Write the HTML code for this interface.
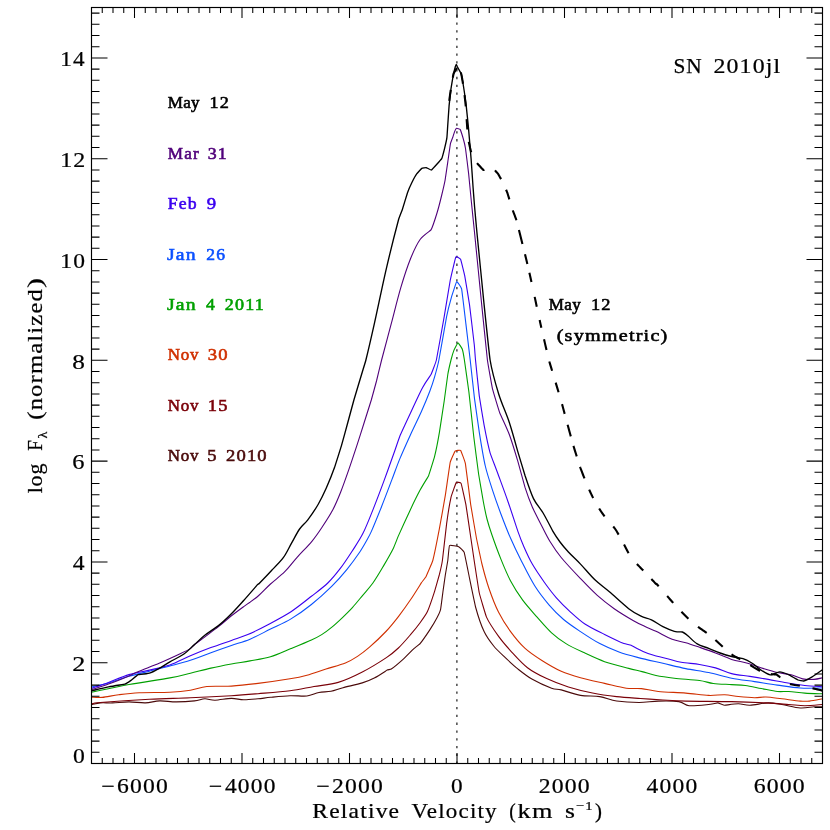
<!DOCTYPE html>
<html><head><meta charset="utf-8"><title>SN 2010jl</title>
<style>html,body{margin:0;padding:0;background:#fff}svg{display:block;will-change:transform}text{font-family:"Liberation Serif",serif}</style></head><body>
<svg width="830" height="830" viewBox="0 0 830 830">
<rect width="830" height="830" fill="#fff"/>
<defs><clipPath id="c"><rect x="91.5" y="7.5" width="731.0" height="756.0"/></clipPath></defs>
<line x1="456.9" y1="763.5" x2="456.9" y2="7.5" stroke="#1a1a1a" stroke-width="1.2" stroke-dasharray="2.3 5.48" stroke-dashoffset="0.30"/>
<g clip-path="url(#c)" fill="none" stroke-linejoin="round" stroke-linecap="butt">
<path d="M91.50 704.60C92.91 704.33 96.92 703.17 100.30 702.90C103.68 702.63 108.01 703.06 112.60 702.90C117.19 702.74 123.75 701.90 129.00 701.90C134.25 701.90 140.49 703.06 145.40 702.90C150.31 702.74 154.79 701.06 159.70 700.90C164.61 700.74 170.53 701.90 176.10 701.90C181.67 701.90 189.91 701.40 194.50 700.90C199.09 700.40 201.52 698.91 204.80 698.80C208.08 698.69 210.74 700.26 215.00 700.20C219.26 700.14 226.81 698.46 231.40 698.40C235.99 698.34 239.44 699.74 243.70 699.80C247.96 699.86 253.68 699.20 258.00 698.80C262.32 698.40 265.58 697.80 270.70 697.30C275.82 696.80 284.21 695.91 290.00 695.70C295.79 695.49 302.28 696.51 306.90 696.00C311.52 695.49 315.04 693.25 318.90 692.50C322.76 691.75 327.14 692.07 331.00 691.30C334.86 690.53 337.99 689.04 343.00 687.70C348.01 686.36 357.29 684.45 362.30 682.90C367.31 681.35 370.32 680.05 374.30 678.00C378.28 675.95 386.52 670.46 387.20 670.10C387.88 669.74 390.64 669.45 391.30 669.00C391.96 668.55 399.98 662.06 403.60 658.80C407.22 655.54 413.24 649.21 413.90 648.60C414.56 647.99 419.46 644.35 420.10 643.60C420.74 642.85 429.12 630.93 429.80 629.90C430.48 628.87 436.57 618.62 437.00 617.80C437.43 616.98 440.36 610.46 440.60 609.40C440.84 608.34 442.81 592.70 443.00 591.30C443.19 589.90 445.21 575.73 445.40 574.50C445.59 573.27 447.64 561.66 447.80 560.50C447.96 559.34 449.06 546.05 449.50 545.50C449.94 544.95 458.11 546.42 458.70 546.70C459.29 546.98 463.76 551.12 464.20 552.40C464.64 553.68 469.14 576.40 469.60 578.60C470.06 580.80 475.12 605.38 475.70 607.50C476.28 609.62 481.22 625.44 484.10 631.60C486.98 637.76 490.23 641.76 493.70 646.00C497.17 650.24 501.94 654.44 505.80 658.10C509.66 661.76 513.56 665.51 517.80 668.90C522.04 672.29 526.89 676.21 532.30 679.30C537.71 682.39 546.98 686.50 551.60 688.20C556.22 689.90 556.58 688.75 561.20 689.90C565.82 691.05 574.32 694.33 580.50 695.40C586.68 696.47 594.02 695.70 599.80 696.60C605.58 697.50 610.33 700.06 616.60 701.00C622.87 701.94 632.33 702.48 639.00 702.50C645.67 702.52 651.92 701.24 658.30 701.10C664.68 700.96 673.96 700.86 678.90 701.60C683.84 702.34 684.43 705.24 689.20 705.70C693.97 706.16 704.12 704.95 708.70 704.50C713.28 704.05 717.16 702.87 717.80 702.90C718.44 702.93 723.88 705.16 724.70 705.20C725.52 705.24 734.37 703.80 738.40 703.80C742.43 703.80 745.13 705.34 749.90 705.20C754.67 705.06 763.08 703.01 768.20 702.90C773.32 702.79 776.76 703.68 781.90 704.50C787.04 705.32 795.16 707.63 800.30 708.00C805.44 708.37 810.45 706.99 814.00 706.80C817.55 706.61 821.14 706.80 822.50 706.80" stroke="#4A0A0A" stroke-width="1.10"/>
<path d="M91.50 704.00C92.91 703.76 91.04 703.27 100.30 702.50C109.56 701.73 134.98 699.95 149.40 699.20C163.82 698.45 177.28 698.36 190.40 697.80C203.52 697.24 220.58 696.36 231.40 695.70C242.22 695.04 248.62 694.48 258.00 693.70C267.38 692.92 281.04 691.95 290.00 690.80C298.96 689.65 306.29 687.84 314.00 686.50C321.71 685.16 330.47 684.72 338.20 682.40C345.93 680.08 354.59 675.97 362.30 672.00C370.01 668.03 380.62 661.44 386.40 657.60C392.18 653.76 394.54 651.66 398.40 648.00C402.26 644.34 407.03 638.75 410.50 634.70C413.97 630.65 419.43 623.62 420.10 622.70C420.77 621.78 426.72 613.06 427.30 611.80C427.88 610.54 434.12 592.79 434.60 591.30C435.08 589.81 439.09 575.73 439.40 574.50C439.71 573.27 442.11 562.52 442.40 560.50C442.69 558.48 446.26 526.43 446.60 523.90C446.94 521.37 450.61 498.96 451.00 497.30C451.39 495.64 455.90 482.96 456.30 482.40C456.70 481.84 460.72 482.51 461.10 483.40C461.48 484.29 465.52 502.46 465.90 504.60C466.28 506.74 470.36 534.70 470.70 537.00C471.04 539.30 474.06 559.76 474.40 562.00C474.74 564.24 478.82 590.80 479.30 593.00C479.78 595.20 485.73 615.36 486.50 617.10C487.27 618.84 494.74 631.01 498.60 636.40C502.46 641.79 505.98 645.79 510.60 650.80C515.22 655.81 521.72 663.25 527.50 667.70C533.28 672.15 540.16 675.51 546.70 678.60C553.24 681.69 561.07 684.70 568.40 687.00C575.73 689.30 584.79 691.46 592.50 693.00C600.21 694.54 608.94 695.72 616.60 696.60C624.26 697.48 632.99 697.96 640.40 698.50C647.81 699.04 655.64 699.58 662.90 700.00C670.16 700.42 674.81 700.84 685.80 701.10C696.79 701.36 718.78 701.31 731.60 701.60C744.42 701.89 756.75 702.44 765.90 702.90C775.05 703.36 782.58 704.05 788.80 704.50C795.02 704.95 799.41 705.70 804.80 705.70C810.19 705.70 819.67 704.69 822.50 704.50" stroke="#7A0008" stroke-width="1.10"/>
<path d="M91.50 697.20C93.23 697.23 97.95 697.80 102.30 697.40C106.65 697.00 112.80 695.45 118.70 694.70C124.60 693.95 131.01 693.10 139.20 692.70C147.39 692.30 161.71 692.60 169.90 692.20C178.09 691.80 184.50 691.11 190.40 690.20C196.30 689.29 200.24 687.16 206.80 686.50C213.36 685.84 223.21 686.60 231.40 686.10C239.59 685.60 248.62 684.57 258.00 683.40C267.38 682.23 282.18 680.11 290.00 678.80C297.82 677.49 301.14 676.77 306.90 675.20C312.66 673.63 319.84 670.95 326.00 669.00C332.16 667.05 340.36 665.02 345.40 663.00C350.44 660.98 353.64 658.93 357.50 656.40C361.36 653.87 364.88 651.26 369.50 647.20C374.12 643.14 381.78 635.90 386.40 631.00C391.02 626.10 394.54 621.59 398.40 616.60C402.26 611.61 406.84 605.19 410.50 599.80C414.16 594.41 420.68 583.84 421.30 582.90C421.92 581.96 425.64 577.30 426.10 576.40C426.56 575.50 432.27 562.41 432.80 560.50C433.33 558.59 438.90 531.32 439.40 528.70C439.90 526.08 444.97 497.55 445.40 494.90C445.83 492.25 449.81 464.15 450.20 462.40C450.59 460.65 454.68 451.58 455.10 451.10C455.52 450.62 460.19 449.90 460.60 450.40C461.01 450.90 465.00 461.43 465.40 463.60C465.80 465.77 470.25 501.58 470.70 504.60C471.15 507.62 476.16 536.66 476.60 539.00C477.04 541.34 481.21 561.03 481.70 563.00C482.19 564.97 488.22 586.23 488.90 588.20C489.58 590.17 495.13 605.36 498.60 612.30C502.07 619.24 506.36 625.82 510.60 631.60C514.84 637.38 520.09 643.78 525.10 648.40C530.11 653.02 536.12 656.84 541.90 660.50C547.68 664.16 555.02 668.53 561.20 671.30C567.38 674.07 573.56 675.86 580.50 677.80C587.44 679.74 597.27 681.74 604.60 683.40C611.93 685.06 620.40 687.37 626.30 688.20C632.20 689.03 636.38 688.07 641.50 688.60C646.62 689.13 651.21 690.78 658.30 691.50C665.39 692.22 677.74 692.48 685.80 693.10C693.86 693.72 702.48 695.14 708.70 695.40C714.92 695.66 719.95 694.52 724.70 694.70C729.45 694.88 733.63 696.02 738.40 696.50C743.17 696.98 750.10 697.62 754.50 697.70C758.90 697.78 761.52 696.82 765.90 697.00C770.28 697.18 776.40 698.14 781.90 698.80C787.40 699.46 795.90 700.73 800.30 701.10C804.70 701.47 805.85 701.47 809.40 701.10C812.95 700.73 820.40 699.17 822.50 698.80" stroke="#D03000" stroke-width="1.10"/>
<path d="M91.50 692.30C97.50 691.05 116.46 686.80 129.00 684.50C141.54 682.20 160.08 679.71 169.90 677.90C179.72 676.09 183.84 674.77 190.40 673.20C196.96 671.63 204.34 669.57 210.90 668.10C217.46 666.63 225.14 665.15 231.40 664.00C237.66 662.85 243.74 662.05 250.00 660.90C256.26 659.75 263.94 658.77 270.50 656.80C277.06 654.83 284.46 651.29 291.00 648.60C297.54 645.91 306.49 642.24 311.40 640.00C316.31 637.76 318.42 636.66 321.70 634.60C324.98 632.54 328.62 629.79 331.90 627.10C335.18 624.41 338.92 620.92 342.20 617.80C345.48 614.68 349.12 611.20 352.40 607.60C355.68 604.00 359.42 599.24 362.70 595.30C365.98 591.36 369.64 587.59 372.90 583.00C376.16 578.41 379.82 572.17 383.10 566.60C386.38 561.03 392.79 549.43 393.40 548.20C394.01 546.97 397.72 537.45 398.40 535.90C399.08 534.35 407.03 516.73 410.50 509.40C413.97 502.07 417.20 495.49 420.10 490.10C423.00 484.71 428.02 477.05 428.60 475.70C429.18 474.35 434.17 458.14 434.60 456.40C435.03 454.66 439.02 434.52 439.40 432.30C439.78 430.08 443.86 403.31 444.20 401.00C444.54 398.69 447.53 376.14 447.80 374.50C448.07 372.86 450.76 360.96 451.00 360.00C451.24 359.04 453.62 351.09 453.90 350.40C454.18 349.71 457.66 342.75 458.00 342.70C458.34 342.65 462.04 348.51 462.30 349.20C462.56 349.89 464.14 358.29 464.40 360.00C464.66 361.71 468.52 388.92 468.90 392.00C469.28 395.08 473.41 433.72 473.80 437.00C474.19 440.28 478.22 471.40 478.60 474.00C478.98 476.60 483.06 500.20 483.40 502.00C483.74 503.80 486.66 517.70 487.00 519.00C487.34 520.30 491.24 532.88 491.80 534.50C492.36 536.12 497.99 551.96 501.00 559.40C504.01 566.84 507.13 574.47 510.60 581.00C514.07 587.53 518.46 594.42 522.70 600.20C526.94 605.98 532.48 611.88 537.10 617.10C541.72 622.32 546.98 628.56 551.60 632.80C556.22 637.04 560.61 640.32 566.00 643.60C571.39 646.88 579.12 650.40 585.30 653.30C591.48 656.20 597.66 659.28 604.60 661.70C611.54 664.12 622.72 666.82 628.70 668.40C634.68 669.98 637.63 670.46 642.00 671.60C646.37 672.74 650.83 674.44 656.00 675.50C661.17 676.56 667.34 677.40 674.30 678.20C681.26 679.00 693.26 679.65 699.50 680.50C705.74 681.35 708.16 682.84 713.30 683.50C718.44 684.16 726.48 684.28 731.60 684.60C736.72 684.92 740.55 684.88 745.30 685.50C750.05 686.12 756.16 687.54 761.30 688.50C766.44 689.46 773.00 691.02 777.40 691.50C781.80 691.98 784.42 691.24 788.80 691.50C793.18 691.76 799.41 692.73 804.80 693.10C810.19 693.47 819.67 693.69 822.50 693.80" stroke="#00A000" stroke-width="1.10"/>
<path d="M91.50 687.00C94.22 686.36 102.50 684.71 108.50 683.00C114.50 681.29 122.46 678.19 129.00 676.30C135.54 674.41 142.86 672.85 149.40 671.20C155.94 669.55 163.34 667.74 169.90 666.00C176.46 664.26 183.84 662.43 190.40 660.30C196.96 658.17 204.34 655.07 210.90 652.70C217.46 650.33 225.14 647.66 231.40 645.50C237.66 643.34 243.74 641.82 250.00 639.20C256.26 636.58 263.94 632.35 270.50 629.10C277.06 625.85 284.46 622.84 291.00 618.90C297.54 614.96 304.86 609.75 311.40 604.50C317.94 599.25 326.20 591.73 331.90 586.10C337.60 580.47 342.54 574.76 347.00 569.30C351.46 563.84 359.01 553.16 359.80 552.00C360.59 550.84 366.33 541.14 366.80 540.30C367.27 539.46 370.91 532.45 371.50 531.10C372.09 529.75 378.35 514.69 381.60 506.50C384.85 498.31 388.86 487.60 391.80 479.90C394.74 472.20 397.01 465.63 400.00 458.40C402.99 451.17 407.09 442.16 410.50 434.70C413.91 427.24 418.21 418.74 421.30 411.80C424.39 404.86 429.27 392.70 429.80 391.30C430.33 389.90 434.24 378.15 434.60 376.90C434.96 375.65 438.42 362.41 438.90 360.00C439.38 357.59 446.10 319.11 446.60 316.60C447.10 314.09 451.00 298.70 451.40 297.30C451.80 295.90 456.29 282.04 456.70 281.70C457.11 281.36 461.23 287.21 461.60 288.90C461.97 290.59 465.56 321.06 465.90 323.90C466.24 326.74 469.86 357.01 470.20 360.00C470.54 362.99 474.14 395.71 474.50 398.60C474.86 401.49 478.87 429.60 479.30 432.30C479.73 435.00 484.77 463.69 485.30 466.00C485.83 468.31 491.87 488.17 492.50 490.10C493.13 492.03 498.10 506.49 501.00 514.20C503.90 521.91 507.34 530.81 510.60 538.30C513.86 545.79 517.54 553.40 521.40 561.00C525.26 568.60 530.25 578.74 534.70 585.80C539.15 592.86 544.58 599.71 549.20 605.10C553.82 610.49 558.59 615.26 563.60 619.50C568.61 623.74 574.71 627.74 580.50 631.60C586.29 635.46 593.64 640.34 599.80 643.60C605.96 646.86 612.84 649.76 619.00 652.00C625.16 654.24 631.28 655.79 638.30 657.60C645.32 659.41 655.30 661.54 662.90 663.30C670.50 665.06 678.47 667.13 685.80 668.60C693.13 670.07 701.37 670.96 708.70 672.50C716.03 674.04 724.27 676.74 731.60 678.20C738.93 679.66 747.17 680.50 754.50 681.60C761.83 682.70 770.07 684.08 777.40 685.10C784.73 686.12 793.08 687.54 800.30 688.00C807.52 688.46 818.95 688.00 822.50 688.00" stroke="#0A50FF" stroke-width="1.10"/>
<path d="M91.50 688.40C94.22 687.44 102.50 684.61 108.50 682.40C114.50 680.19 122.46 676.57 129.00 674.60C135.54 672.63 142.86 671.64 149.40 670.10C155.94 668.56 163.34 667.29 169.90 665.00C176.46 662.71 183.84 658.58 190.40 655.80C196.96 653.02 204.34 650.06 210.90 647.60C217.46 645.14 225.50 642.48 231.40 640.40C237.30 638.32 241.88 637.16 247.80 634.60C253.72 632.04 261.49 628.06 268.40 624.40C275.31 620.74 284.12 616.20 291.00 611.70C297.88 607.20 305.51 600.89 311.40 596.30C317.29 591.71 323.21 587.42 327.80 583.00C332.39 578.58 336.16 573.87 340.10 568.70C344.04 563.53 348.72 556.40 352.40 550.70C356.08 545.00 359.74 539.84 363.10 533.10C366.46 526.36 370.12 516.79 373.40 508.60C376.68 500.41 380.32 490.75 383.60 481.90C386.88 473.05 393.24 455.14 393.90 453.30C394.56 451.46 399.34 437.41 400.00 435.80C400.66 434.19 406.90 420.70 410.50 413.00C414.10 405.30 419.22 393.86 422.50 387.70C425.78 381.54 430.44 375.61 431.00 374.50C431.56 373.39 435.87 362.32 436.40 360.00C436.93 357.68 443.65 319.78 444.20 316.60C444.75 313.42 449.74 282.89 450.20 280.50C450.66 278.11 455.38 257.75 455.80 256.90C456.22 256.05 460.24 258.55 460.60 259.30C460.96 260.05 464.34 273.89 464.70 275.70C465.06 277.51 469.12 301.83 469.50 304.60C469.88 307.37 474.06 342.78 474.30 345.00C474.54 347.22 475.30 357.96 475.50 360.00C475.70 362.04 478.96 393.50 479.30 396.10C479.64 398.70 483.67 422.83 484.10 425.10C484.53 427.37 489.52 450.78 490.10 452.80C490.68 454.82 495.70 467.80 498.60 475.70C501.50 483.60 505.13 493.34 508.20 502.20C511.27 511.06 517.17 529.31 517.80 531.10C518.43 532.89 523.42 545.68 524.00 547.00C524.58 548.32 529.05 558.47 532.30 564.10C535.55 569.73 540.44 576.81 544.30 582.20C548.16 587.59 552.16 592.98 556.40 597.80C560.64 602.62 566.18 608.06 570.80 612.30C575.42 616.54 579.89 620.75 585.30 624.30C590.71 627.85 598.42 631.41 604.60 634.50C610.78 637.59 622.84 643.17 623.90 643.60C624.96 644.03 630.33 644.98 631.10 645.30C631.87 645.62 639.48 649.90 643.10 651.50C646.72 653.10 649.80 654.15 653.70 655.30C657.60 656.45 663.10 657.60 667.50 658.70C671.90 659.80 676.08 661.27 681.20 662.20C686.32 663.13 694.01 663.59 699.50 664.50C704.99 665.41 710.36 666.44 715.50 667.90C720.64 669.36 726.10 672.24 731.60 673.60C737.10 674.96 744.04 675.47 749.90 676.40C755.76 677.33 762.34 678.38 768.20 679.40C774.06 680.42 780.64 681.82 786.50 682.80C792.36 683.78 799.04 684.88 804.80 685.50C810.56 686.12 819.67 686.51 822.50 686.70" stroke="#3A00F0" stroke-width="1.10"/>
<path d="M91.50 689.80C94.22 688.89 102.50 686.32 108.50 684.10C114.50 681.88 124.09 677.96 129.00 675.90C133.91 673.84 134.29 673.26 139.20 671.20C144.11 669.14 153.14 665.80 159.70 663.00C166.26 660.20 175.29 656.00 180.20 653.70C185.11 651.40 189.83 648.96 190.40 648.60C190.97 648.24 193.35 645.60 194.50 644.70C195.65 643.80 213.20 630.72 219.10 626.10C225.00 621.48 227.46 618.92 231.40 615.80C235.34 612.68 242.96 607.14 243.70 606.60C244.44 606.06 249.40 602.64 250.00 602.20C250.60 601.76 255.42 598.41 258.70 595.50C261.98 592.59 266.32 587.81 270.50 584.00C274.68 580.19 280.54 575.96 284.80 571.70C289.06 567.44 292.76 562.26 297.10 557.40C301.44 552.54 307.88 546.16 311.90 541.30C315.92 536.44 318.92 531.91 322.20 527.00C325.48 522.09 329.46 516.17 332.40 510.60C335.34 505.03 337.98 498.76 340.60 492.20C343.22 485.64 346.18 477.14 348.80 469.60C351.42 462.06 356.38 446.98 357.00 445.10C357.62 443.22 363.63 424.30 364.20 422.50C364.77 420.70 370.81 401.66 371.30 400.00C371.79 398.34 376.09 382.60 376.50 381.00C376.91 379.40 381.01 362.28 381.60 360.00C382.19 357.72 388.13 335.47 391.20 323.90C394.27 312.33 397.71 298.12 400.80 287.70C403.89 277.28 407.41 266.51 410.50 258.80C413.59 251.09 416.82 244.12 420.10 239.50C423.38 234.88 430.32 230.96 431.00 229.90C431.68 228.84 436.58 214.36 437.00 213.00C437.42 211.64 441.18 197.32 441.50 196.00C441.82 194.68 444.85 181.47 445.10 180.10C445.35 178.73 447.59 163.25 447.80 161.80C448.01 160.35 450.20 144.78 450.40 143.80C450.60 142.82 452.63 137.69 452.80 137.20C452.97 136.71 454.45 131.96 454.60 131.60C454.75 131.24 456.38 128.39 456.60 128.30C456.82 128.21 459.84 128.99 460.10 129.40C460.36 129.81 462.98 137.74 463.20 138.50C463.42 139.26 465.28 147.10 465.50 148.50C465.72 149.90 468.36 171.22 468.60 173.40C468.84 175.58 471.26 200.64 471.50 203.00C471.74 205.36 474.09 228.24 474.50 232.30C474.91 236.36 481.18 299.49 481.70 304.60C482.22 309.71 486.97 356.63 487.40 360.00C487.83 363.37 492.00 386.78 492.50 388.90C493.00 391.02 499.12 411.17 499.80 413.00C500.48 414.83 506.52 426.99 509.40 434.70C512.28 442.41 517.17 459.08 517.80 461.20C518.43 463.32 524.52 485.87 525.10 487.70C525.68 489.53 531.63 505.46 532.30 507.00C532.97 508.54 539.07 520.78 541.90 526.30C544.73 531.82 546.91 536.51 550.00 541.50C553.09 546.49 556.32 551.56 561.20 557.50C566.08 563.44 574.72 572.54 580.50 578.60C586.28 584.66 591.91 590.58 597.30 595.40C602.69 600.22 608.41 604.65 614.20 608.70C619.99 612.75 628.57 617.85 633.50 620.70C638.43 623.55 641.40 624.80 645.00 626.50C648.60 628.20 651.66 629.25 656.00 631.30C660.34 633.35 667.33 637.48 672.10 639.30C676.87 641.12 681.42 641.42 685.80 642.70C690.18 643.98 694.75 645.65 699.50 647.30C704.25 648.95 710.36 651.06 715.50 653.00C720.64 654.94 726.46 657.75 731.60 659.40C736.74 661.05 742.48 661.83 747.60 663.30C752.72 664.77 758.83 667.13 763.60 668.60C768.37 670.07 773.00 671.51 777.40 672.50C781.80 673.49 787.07 673.78 791.10 674.80C795.13 675.82 798.94 678.16 802.60 678.90C806.26 679.64 810.82 679.58 814.00 679.40C817.18 679.22 821.14 678.06 822.50 677.80" stroke="#50007A" stroke-width="1.10"/>
<path d="M91.50 690.80C94.22 690.18 103.16 687.97 108.50 686.90C113.84 685.83 124.00 684.36 124.90 684.10C125.80 683.84 130.47 680.78 131.00 680.40C131.53 680.02 137.46 674.89 138.20 674.60C138.94 674.31 145.96 674.24 149.40 673.20C152.84 672.16 156.42 669.91 159.70 668.10C162.98 666.29 165.96 664.20 169.90 661.90C173.84 659.60 180.36 656.48 184.30 653.70C188.24 650.92 191.22 647.44 194.50 644.50C197.78 641.56 200.86 638.40 204.80 635.30C208.74 632.20 214.84 628.54 219.10 625.10C223.36 621.66 227.46 617.74 231.40 613.80C235.34 609.86 239.44 605.25 243.70 600.50C247.96 595.75 257.40 584.76 258.00 584.10C258.60 583.44 258.29 584.40 258.70 584.00C259.11 583.60 267.77 574.56 268.30 574.00C268.83 573.44 271.40 570.65 272.00 570.00C272.60 569.35 280.20 561.96 283.30 557.70C286.40 553.44 288.79 547.99 291.40 543.40C294.01 538.81 296.98 532.78 299.60 529.00C302.22 525.22 304.84 523.72 307.80 519.80C310.76 515.88 315.14 509.57 318.10 504.50C321.06 499.43 323.68 494.00 326.30 488.10C328.92 482.20 333.89 469.32 334.50 467.60C335.11 465.88 341.07 446.90 341.60 445.10C342.13 443.30 347.31 424.30 347.80 422.50C348.29 420.70 353.32 402.02 353.90 400.00C354.48 397.98 361.82 373.60 362.30 372.00C362.78 370.40 365.42 361.92 365.90 360.00C366.38 358.08 371.02 338.56 374.30 323.90C377.58 309.24 382.54 284.99 386.40 268.40C390.26 251.81 397.77 222.54 398.40 220.20C399.03 217.86 401.84 211.10 402.20 210.00C402.56 208.90 407.11 193.80 407.50 192.70C407.89 191.60 411.53 183.25 411.90 182.50C412.27 181.75 416.30 174.46 416.70 173.90C417.10 173.34 421.42 168.65 421.80 168.40C422.18 168.15 425.92 167.54 426.30 167.60C426.68 167.66 430.78 170.36 431.40 170.00C432.02 169.64 441.17 159.47 441.70 158.60C442.23 157.73 444.39 149.14 444.60 148.30C444.81 147.46 446.78 138.53 446.90 137.70C447.02 136.87 447.51 128.78 447.60 127.50C447.69 126.22 448.96 107.15 449.10 105.60C449.24 104.05 450.84 89.88 451.00 88.70C451.16 87.52 452.93 76.98 453.10 76.10C453.27 75.22 455.17 67.27 455.30 66.80C455.43 66.33 456.22 64.40 456.30 64.40C456.38 64.40 457.27 66.55 457.40 66.80C457.53 67.05 459.35 70.33 459.50 70.60C459.65 70.87 461.07 73.14 461.20 73.60C461.33 74.06 462.67 81.22 462.80 82.00C462.93 82.78 464.36 92.06 464.50 93.00C464.64 93.94 466.04 104.24 466.20 105.60C466.36 106.96 468.20 124.87 468.40 127.00C468.60 129.13 470.91 156.47 471.10 158.90C471.29 161.33 472.96 185.88 473.10 187.80C473.24 189.72 474.45 205.22 474.60 207.00C474.75 208.78 476.52 228.40 476.90 232.30C477.28 236.20 483.57 299.49 484.10 304.60C484.63 309.71 489.52 356.44 490.10 360.00C490.68 363.56 495.51 383.67 498.60 393.70C501.69 403.73 506.33 413.44 509.40 422.70C512.47 431.96 517.17 449.48 517.80 451.60C518.43 453.72 524.47 473.82 525.10 475.70C525.73 477.58 530.62 492.63 533.50 498.60C536.38 504.57 540.01 507.80 543.10 513.00C546.19 518.20 552.12 529.94 552.80 531.10C553.48 532.26 559.38 541.16 560.00 542.00C560.62 542.84 565.12 548.46 568.40 552.00C571.68 555.54 576.26 559.65 580.50 564.10C584.74 568.55 590.28 575.37 594.90 579.80C599.52 584.23 603.99 587.18 609.40 591.80C614.81 596.42 623.64 604.80 628.70 608.70C633.76 612.60 637.37 614.42 641.00 616.20C644.63 617.98 647.90 618.12 651.40 619.80C654.90 621.48 659.24 624.86 662.90 626.70C666.56 628.54 671.18 630.45 674.30 631.30C677.42 632.15 681.85 631.82 682.40 632.00C682.95 632.18 687.51 635.42 688.10 635.90C688.69 636.38 693.90 641.90 697.20 643.90C700.50 645.90 705.04 646.94 708.70 648.40C712.36 649.86 716.44 651.70 720.10 653.00C723.76 654.30 727.94 655.59 731.60 656.50C735.26 657.41 739.70 657.61 743.00 658.70C746.30 659.79 749.27 661.46 752.20 663.30C755.13 665.14 758.37 668.36 761.30 670.20C764.23 672.04 767.56 674.54 770.50 674.80C773.44 675.06 776.77 671.80 779.70 671.80C782.63 671.80 785.87 673.49 788.80 674.80C791.73 676.11 797.40 679.75 798.00 680.00C798.60 680.25 803.15 681.12 803.70 681.00C804.25 680.88 808.69 678.91 811.70 677.10C814.71 675.29 820.77 670.88 822.50 669.70" stroke="#000000" stroke-width="1.35"/>
<path d="M449.23 100.92L449.43 99.45L449.62 97.98L449.81 96.57L449.99 95.29L450.13 94.22L450.24 93.44L450.30 93.00L450.36 92.60L450.46 91.91L450.60 90.99L450.77 89.90M452.80 77.68L452.98 76.72L453.16 75.81L453.31 75.00L453.44 74.33L453.54 73.85L453.60 73.60L453.66 73.45L453.76 73.24L453.90 72.98L454.07 72.68L454.25 72.36L454.44 72.03L454.64 71.71L454.82 71.40L454.99 71.12L455.13 70.88L455.24 70.71L455.30 70.60L455.37 70.47L455.50 70.24L455.67 69.93L455.88 69.55L456.12 69.13L456.36 68.69L456.60 68.25L456.83 67.83M460.84 72.37L461.08 73.40L461.30 74.34L461.49 75.14L461.62 75.74L461.70 76.10L461.77 76.51L461.90 77.26L462.08 78.27L462.29 79.49L462.51 80.85L462.75 82.29L462.99 83.72M464.54 95.09L464.76 97.01L464.98 98.94L465.18 100.79L465.37 102.47L465.52 103.89L465.64 104.96L465.70 105.60L465.76 106.33M466.64 119.19L466.80 121.60L466.95 123.75L467.07 125.54L467.15 126.83L467.20 127.50L467.23 127.95L467.27 128.64L467.33 129.52M468.75 141.79L469.02 143.00L469.28 144.21L469.54 145.37L469.77 146.41L469.97 147.28L470.11 147.93L470.20 148.30L470.29 148.66L470.45 149.29L470.67 150.14L470.93 151.15L471.22 152.27M477.01 163.15L478.22 164.49L479.42 165.82L480.57 167.08L481.60 168.19L482.46 169.09L483.08 169.72L483.40 170.00L483.62 170.03L483.97 169.95L484.40 169.79M494.96 170.40L495.55 171.03L496.13 171.67L496.69 172.28L497.19 172.84L497.61 173.31L497.92 173.68L498.10 173.90L498.27 174.17L498.57 174.68L498.97 175.38L499.44 176.21L499.96 177.15L500.51 178.13L501.06 179.12M506.07 189.73L506.50 190.75L506.86 191.61L507.14 192.28L507.30 192.70L507.48 193.25L507.80 194.29L508.24 195.71L508.77 197.43L509.35 199.34M512.74 210.39L512.96 210.98L513.26 211.73L513.61 212.61L513.99 213.59L514.40 214.64L514.81 215.70L515.21 216.76L515.59 217.78L515.92 218.71L516.20 219.53L516.40 220.20M518.94 230.05L520.01 234.28L521.19 238.95L522.44 243.92M524.99 254.20L526.22 259.23L527.37 264.01M529.39 272.70L530.41 277.25L531.46 282.01M534.67 296.88L535.72 301.83L536.76 306.68M539.65 320.05L540.50 323.90L541.35 327.65M544.03 339.35L544.91 343.13L545.75 346.72L546.53 350.06M549.30 361.45L549.60 362.46L549.94 363.61L550.31 364.85L550.70 366.12L551.09 367.39L551.46 368.61L551.80 369.72L552.10 370.69M555.69 382.60L556.66 385.84L557.64 389.09L558.57 392.20M562.03 404.11L562.63 406.33L563.29 408.77L563.98 411.33L564.67 413.88M567.59 424.68L568.10 426.54L568.71 428.76L569.38 431.22L570.08 433.80L570.79 436.38M573.44 445.89L573.87 447.27L574.45 449.13L575.14 451.35L575.91 453.81L576.72 456.38M580.04 466.83L580.30 467.60L580.54 468.25L580.94 469.31L581.47 470.70L582.11 472.37L582.85 474.25L583.65 476.28L584.49 478.40M589.16 489.57L589.81 491.01L590.47 492.44L591.13 493.85L591.80 495.24L592.47 496.61L593.15 497.97M599.14 508.48L600.03 509.85L600.93 511.22L601.85 512.58L602.77 513.92L603.67 515.22L604.56 516.47M613.23 526.52L613.89 527.28L614.54 528.10L615.20 529.00L615.86 529.99L616.54 531.06L617.22 532.20L617.91 533.39L618.61 534.63M624.05 544.56L624.69 545.76L625.33 546.97L625.97 548.20L626.61 549.44L627.26 550.68L627.93 551.91L628.60 553.12M636.89 563.94L638.09 565.20L639.24 566.39L640.29 567.47L641.22 568.40L641.97 569.16L642.51 569.70L642.80 570.00L642.99 570.20L643.25 570.48M651.35 579.06L652.48 580.24L653.55 581.35L654.50 582.35L655.28 583.16L655.83 583.73L656.10 584.00L656.19 584.07L656.25 584.10L656.30 584.09L656.33 584.06L656.36 584.01L656.38 583.95L656.41 583.90L656.44 583.87L656.50 583.86L656.57 583.89L656.67 583.97L656.80 584.10L657.13 584.47L657.77 585.21L658.69 586.27M667.15 596.03L668.60 597.68L669.94 599.19L671.10 600.50L672.16 601.68L673.22 602.86M681.42 611.78L682.41 612.80L683.40 613.80L684.39 614.78L685.38 615.76L686.38 616.74L687.39 617.71L688.41 618.68M697.96 626.83L699.18 627.71L700.42 628.58L701.69 629.46L702.97 630.33L704.24 631.19L705.49 632.04L706.70 632.88M715.40 639.96L716.23 640.73L717.05 641.50L717.86 642.26L718.67 643.01L719.48 643.76L720.30 644.50L721.11 645.25L721.92 646.01L722.72 646.79M731.53 654.40L732.66 655.11L733.86 655.83L735.11 656.55L736.39 657.27L737.70 657.98L739.00 658.68L740.29 659.37M750.25 665.19L751.06 665.70L751.87 666.20L752.68 666.69L753.48 667.17L754.29 667.64L755.10 668.10L755.93 668.56L756.76 669.03L757.61 669.51L758.46 669.99L759.32 670.47L760.19 670.94M770.85 674.08L772.01 674.18L773.12 674.27L774.13 674.34L775.02 674.41L775.75 674.47L776.29 674.53L776.60 674.60L776.89 674.77L777.35 675.10L777.96 675.57L778.68 676.15L779.46 676.79L780.28 677.47M789.90 684.10L790.31 684.19L791.06 684.32L792.09 684.50L793.36 684.70L794.83 684.94L796.43 685.20L798.13 685.47L799.87 685.76M812.48 688.25L814.14 688.63L815.78 689.02L817.37 689.39L818.87 689.75L820.25 690.08L821.47 690.37L822.50 690.61" stroke="#000" stroke-width="2.1" stroke-linecap="butt"/>
</g>
<path d="M102.25 763.5V758.1M102.25 7.5V12.9M113.00 763.5V758.1M113.00 7.5V12.9M123.75 763.5V758.1M123.75 7.5V12.9M134.50 763.5V752.9M134.50 7.5V18.1M145.25 763.5V758.1M145.25 7.5V12.9M156.00 763.5V758.1M156.00 7.5V12.9M166.75 763.5V758.1M166.75 7.5V12.9M177.50 763.5V758.1M177.50 7.5V12.9M188.25 763.5V758.1M188.25 7.5V12.9M199.00 763.5V758.1M199.00 7.5V12.9M209.75 763.5V758.1M209.75 7.5V12.9M220.50 763.5V758.1M220.50 7.5V12.9M231.25 763.5V758.1M231.25 7.5V12.9M242.00 763.5V752.9M242.00 7.5V18.1M252.75 763.5V758.1M252.75 7.5V12.9M263.50 763.5V758.1M263.50 7.5V12.9M274.25 763.5V758.1M274.25 7.5V12.9M285.00 763.5V758.1M285.00 7.5V12.9M295.75 763.5V758.1M295.75 7.5V12.9M306.50 763.5V758.1M306.50 7.5V12.9M317.25 763.5V758.1M317.25 7.5V12.9M328.00 763.5V758.1M328.00 7.5V12.9M338.75 763.5V758.1M338.75 7.5V12.9M349.50 763.5V752.9M349.50 7.5V18.1M360.25 763.5V758.1M360.25 7.5V12.9M371.00 763.5V758.1M371.00 7.5V12.9M381.75 763.5V758.1M381.75 7.5V12.9M392.50 763.5V758.1M392.50 7.5V12.9M403.25 763.5V758.1M403.25 7.5V12.9M414.00 763.5V758.1M414.00 7.5V12.9M424.75 763.5V758.1M424.75 7.5V12.9M435.50 763.5V758.1M435.50 7.5V12.9M446.25 763.5V758.1M446.25 7.5V12.9M457.00 763.5V752.9M457.00 7.5V18.1M467.75 763.5V758.1M467.75 7.5V12.9M478.50 763.5V758.1M478.50 7.5V12.9M489.25 763.5V758.1M489.25 7.5V12.9M500.00 763.5V758.1M500.00 7.5V12.9M510.75 763.5V758.1M510.75 7.5V12.9M521.50 763.5V758.1M521.50 7.5V12.9M532.25 763.5V758.1M532.25 7.5V12.9M543.00 763.5V758.1M543.00 7.5V12.9M553.75 763.5V758.1M553.75 7.5V12.9M564.50 763.5V752.9M564.50 7.5V18.1M575.25 763.5V758.1M575.25 7.5V12.9M586.00 763.5V758.1M586.00 7.5V12.9M596.75 763.5V758.1M596.75 7.5V12.9M607.50 763.5V758.1M607.50 7.5V12.9M618.25 763.5V758.1M618.25 7.5V12.9M629.00 763.5V758.1M629.00 7.5V12.9M639.75 763.5V758.1M639.75 7.5V12.9M650.50 763.5V758.1M650.50 7.5V12.9M661.25 763.5V758.1M661.25 7.5V12.9M672.00 763.5V752.9M672.00 7.5V18.1M682.75 763.5V758.1M682.75 7.5V12.9M693.50 763.5V758.1M693.50 7.5V12.9M704.25 763.5V758.1M704.25 7.5V12.9M715.00 763.5V758.1M715.00 7.5V12.9M725.75 763.5V758.1M725.75 7.5V12.9M736.50 763.5V758.1M736.50 7.5V12.9M747.25 763.5V758.1M747.25 7.5V12.9M758.00 763.5V758.1M758.00 7.5V12.9M768.75 763.5V758.1M768.75 7.5V12.9M779.50 763.5V752.9M779.50 7.5V18.1M790.25 763.5V758.1M790.25 7.5V12.9M801.00 763.5V758.1M801.00 7.5V12.9M811.75 763.5V758.1M811.75 7.5V12.9M91.5 752.30H99.5M822.5 752.30H814.5M91.5 741.10H99.5M822.5 741.10H814.5M91.5 729.90H99.5M822.5 729.90H814.5M91.5 718.70H99.5M822.5 718.70H814.5M91.5 707.50H99.5M822.5 707.50H814.5M91.5 696.30H99.5M822.5 696.30H814.5M91.5 685.10H99.5M822.5 685.10H814.5M91.5 673.90H99.5M822.5 673.90H814.5M91.5 662.70H107.5M822.5 662.70H806.5M91.5 651.50H99.5M822.5 651.50H814.5M91.5 640.30H99.5M822.5 640.30H814.5M91.5 629.10H99.5M822.5 629.10H814.5M91.5 617.90H99.5M822.5 617.90H814.5M91.5 606.70H99.5M822.5 606.70H814.5M91.5 595.50H99.5M822.5 595.50H814.5M91.5 584.30H99.5M822.5 584.30H814.5M91.5 573.10H99.5M822.5 573.10H814.5M91.5 561.90H107.5M822.5 561.90H806.5M91.5 550.70H99.5M822.5 550.70H814.5M91.5 539.50H99.5M822.5 539.50H814.5M91.5 528.30H99.5M822.5 528.30H814.5M91.5 517.10H99.5M822.5 517.10H814.5M91.5 505.90H99.5M822.5 505.90H814.5M91.5 494.70H99.5M822.5 494.70H814.5M91.5 483.50H99.5M822.5 483.50H814.5M91.5 472.30H99.5M822.5 472.30H814.5M91.5 461.10H107.5M822.5 461.10H806.5M91.5 449.90H99.5M822.5 449.90H814.5M91.5 438.70H99.5M822.5 438.70H814.5M91.5 427.50H99.5M822.5 427.50H814.5M91.5 416.30H99.5M822.5 416.30H814.5M91.5 405.10H99.5M822.5 405.10H814.5M91.5 393.90H99.5M822.5 393.90H814.5M91.5 382.70H99.5M822.5 382.70H814.5M91.5 371.50H99.5M822.5 371.50H814.5M91.5 360.30H107.5M822.5 360.30H806.5M91.5 349.10H99.5M822.5 349.10H814.5M91.5 337.90H99.5M822.5 337.90H814.5M91.5 326.70H99.5M822.5 326.70H814.5M91.5 315.50H99.5M822.5 315.50H814.5M91.5 304.30H99.5M822.5 304.30H814.5M91.5 293.10H99.5M822.5 293.10H814.5M91.5 281.90H99.5M822.5 281.90H814.5M91.5 270.70H99.5M822.5 270.70H814.5M91.5 259.50H107.5M822.5 259.50H806.5M91.5 248.30H99.5M822.5 248.30H814.5M91.5 237.10H99.5M822.5 237.10H814.5M91.5 225.90H99.5M822.5 225.90H814.5M91.5 214.70H99.5M822.5 214.70H814.5M91.5 203.50H99.5M822.5 203.50H814.5M91.5 192.30H99.5M822.5 192.30H814.5M91.5 181.10H99.5M822.5 181.10H814.5M91.5 169.90H99.5M822.5 169.90H814.5M91.5 158.70H107.5M822.5 158.70H806.5M91.5 147.50H99.5M822.5 147.50H814.5M91.5 136.30H99.5M822.5 136.30H814.5M91.5 125.10H99.5M822.5 125.10H814.5M91.5 113.90H99.5M822.5 113.90H814.5M91.5 102.70H99.5M822.5 102.70H814.5M91.5 91.50H99.5M822.5 91.50H814.5M91.5 80.30H99.5M822.5 80.30H814.5M91.5 69.10H99.5M822.5 69.10H814.5M91.5 57.90H107.5M822.5 57.90H806.5M91.5 46.70H99.5M822.5 46.70H814.5M91.5 35.50H99.5M822.5 35.50H814.5M91.5 24.30H99.5M822.5 24.30H814.5M91.5 13.10H99.5M822.5 13.10H814.5" stroke="#000" stroke-width="1.05" fill="none"/>
<rect x="91.5" y="7.5" width="731.0" height="756.0" fill="none" stroke="#000" stroke-width="1.15"/>
<text transform="translate(101.21,792.60) scale(1.1436,1)" font-size="20.80" fill="#000" stroke="#000" stroke-width="0.23">−</text>
<text transform="translate(117.09,792.60) scale(1.1352,1)" font-size="20.80" fill="#000" stroke="#000" stroke-width="0.23" letter-spacing="1.057">6000</text>
<text transform="translate(208.71,792.60) scale(1.1436,1)" font-size="20.80" fill="#000" stroke="#000" stroke-width="0.23">−</text>
<text transform="translate(224.96,792.60) scale(1.1262,1)" font-size="20.80" fill="#000" stroke="#000" stroke-width="0.24" letter-spacing="1.066">4000</text>
<text transform="translate(316.21,792.60) scale(1.1436,1)" font-size="20.80" fill="#000" stroke="#000" stroke-width="0.23">−</text>
<text transform="translate(332.09,792.60) scale(1.1352,1)" font-size="20.80" fill="#000" stroke="#000" stroke-width="0.23" letter-spacing="1.057">2000</text>
<text transform="translate(451.00,792.60) scale(1.1154,1)" font-size="20.80" fill="#000" stroke="#000" stroke-width="0.24">0</text>
<text transform="translate(538.68,792.60) scale(1.1402,1)" font-size="20.80" fill="#000" stroke="#000" stroke-width="0.23" letter-spacing="1.052">2000</text>
<text transform="translate(646.56,792.60) scale(1.1311,1)" font-size="20.80" fill="#000" stroke="#000" stroke-width="0.23" letter-spacing="1.061">4000</text>
<text transform="translate(753.68,792.60) scale(1.1402,1)" font-size="20.80" fill="#000" stroke="#000" stroke-width="0.23" letter-spacing="1.052">6000</text>
<text transform="translate(60.22,66.20) scale(1.1114,1)" font-size="20.80" fill="#000" stroke="#000" stroke-width="0.24" letter-spacing="1.080">14</text>
<text transform="translate(60.15,167.00) scale(1.1511,1)" font-size="20.80" fill="#000" stroke="#000" stroke-width="0.23" letter-spacing="1.042">12</text>
<text transform="translate(60.19,267.80) scale(1.1309,1)" font-size="20.80" fill="#000" stroke="#000" stroke-width="0.23" letter-spacing="1.061">10</text>
<text transform="translate(72.34,368.60) scale(1.2143,1)" font-size="20.80" fill="#000" stroke="#000" stroke-width="0.23">8</text>
<text transform="translate(72.36,469.40) scale(1.1724,1)" font-size="20.80" fill="#000" stroke="#000" stroke-width="0.23">6</text>
<text transform="translate(72.76,570.20) scale(1.1333,1)" font-size="20.80" fill="#000" stroke="#000" stroke-width="0.23">4</text>
<text transform="translate(72.31,671.00) scale(1.2593,1)" font-size="20.80" fill="#000" stroke="#000" stroke-width="0.22">2</text>
<text transform="translate(72.99,762.90) scale(1.1374,1)" font-size="20.80" fill="#000" stroke="#000" stroke-width="0.23">0</text>
<text transform="translate(312.26,817.50) scale(1.0700,1)" font-size="22.00" fill="#000" stroke="#000" stroke-width="0.24" letter-spacing="1.122">Relative</text>
<text transform="translate(411.52,817.50) scale(1.0455,1)" font-size="22.00" fill="#000" stroke="#000" stroke-width="0.24" letter-spacing="1.148">Velocity</text>
<text transform="translate(509.32,817.50) scale(0.8808,1)" font-size="22.00" fill="#000" stroke="#000" stroke-width="0.27">(</text>
<text transform="translate(517.61,817.50) scale(1.1945,1)" font-size="22.00" fill="#000" stroke="#000" stroke-width="0.23" letter-spacing="1.005">km</text>
<text transform="translate(565.03,817.50) scale(1.1567,1)" font-size="22.00" fill="#000" stroke="#000" stroke-width="0.23">s</text>
<text transform="translate(575.73,810.30) scale(1.1571,1)" font-size="12.60" fill="#000" stroke="#000" stroke-width="0.23" letter-spacing="1.037">−1</text>
<text transform="translate(594.97,817.50) scale(0.9497,1)" font-size="22.00" fill="#000" stroke="#000" stroke-width="0.26">)</text>
<text transform="translate(167.73,108.30) scale(1.0000,1)" font-size="17.00" fill="#000000" stroke="#000000" stroke-width="0.60" letter-spacing="0.302">May</text>
<text transform="translate(209.58,108.30) scale(1.0689,1)" font-size="17.00" fill="#000000" stroke="#000000" stroke-width="0.58" letter-spacing="1.123">12</text>
<text transform="translate(167.73,158.70) scale(1.0081,1)" font-size="17.00" fill="#50007A" stroke="#50007A" stroke-width="0.60" letter-spacing="1.190">Mar</text>
<text transform="translate(207.66,158.70) scale(1.0515,1)" font-size="17.00" fill="#50007A" stroke="#50007A" stroke-width="0.58" letter-spacing="1.141">31</text>
<text transform="translate(167.72,209.10) scale(1.0404,1)" font-size="17.00" fill="#3A00F0" stroke="#3A00F0" stroke-width="0.59" letter-spacing="1.153">Feb</text>
<text transform="translate(206.71,209.10) scale(1.1025,1)" font-size="17.00" fill="#3A00F0" stroke="#3A00F0" stroke-width="0.57">9</text>
<text transform="translate(166.89,259.50) scale(1.1609,1)" font-size="17.00" fill="#0A50FF" stroke="#0A50FF" stroke-width="0.56" letter-spacing="1.034">Jan</text>
<text transform="translate(206.25,259.50) scale(1.0307,1)" font-size="17.00" fill="#0A50FF" stroke="#0A50FF" stroke-width="0.59" letter-spacing="1.164">26</text>
<text transform="translate(166.89,309.90) scale(1.1609,1)" font-size="17.00" fill="#00A000" stroke="#00A000" stroke-width="0.56" letter-spacing="1.034">Jan</text>
<text transform="translate(206.02,309.90) scale(1.0416,1)" font-size="17.00" fill="#00A000" stroke="#00A000" stroke-width="0.59">4</text>
<text transform="translate(224.73,309.90) scale(1.0643,1)" font-size="17.00" fill="#00A000" stroke="#00A000" stroke-width="0.58" letter-spacing="1.128">2011</text>
<text transform="translate(167.73,360.30) scale(1.0000,1)" font-size="17.00" fill="#D03000" stroke="#D03000" stroke-width="0.60" letter-spacing="0.794">Nov</text>
<text transform="translate(207.63,360.30) scale(1.0975,1)" font-size="17.00" fill="#D03000" stroke="#D03000" stroke-width="0.57" letter-spacing="1.093">30</text>
<text transform="translate(167.73,410.70) scale(1.0000,1)" font-size="17.00" fill="#7A0008" stroke="#7A0008" stroke-width="0.60" letter-spacing="0.794">Nov</text>
<text transform="translate(207.86,410.70) scale(1.0832,1)" font-size="17.00" fill="#7A0008" stroke="#7A0008" stroke-width="0.58" letter-spacing="1.108">15</text>
<text transform="translate(167.73,461.10) scale(1.0000,1)" font-size="17.00" fill="#4A0A0A" stroke="#4A0A0A" stroke-width="0.60" letter-spacing="0.794">Nov</text>
<text transform="translate(207.13,461.10) scale(1.0876,1)" font-size="17.00" fill="#4A0A0A" stroke="#4A0A0A" stroke-width="0.57">5</text>
<text transform="translate(225.92,461.10) scale(1.0930,1)" font-size="17.00" fill="#4A0A0A" stroke="#4A0A0A" stroke-width="0.57" letter-spacing="1.098">2010</text>
<text transform="translate(673.59,73.40) scale(1.0000,1)" font-size="21.30" fill="#000" stroke="#000" stroke-width="0.25" letter-spacing="0.759">SN</text>
<text transform="translate(713.38,73.40) scale(1.1185,1)" font-size="21.30" fill="#000" stroke="#000" stroke-width="0.24" letter-spacing="1.073">2010jl</text>
<text transform="translate(548.73,309.90) scale(1.0000,1)" font-size="17.00" fill="#000" stroke="#000" stroke-width="0.60" letter-spacing="0.452">May</text>
<text transform="translate(590.96,309.90) scale(1.0824,1)" font-size="17.00" fill="#000" stroke="#000" stroke-width="0.58" letter-spacing="1.109">12</text>
<text transform="translate(556.67,340.70) scale(1.1875,1)" font-size="17.00" fill="#000" stroke="#000" stroke-width="0.55" letter-spacing="1.011">(symmetric)</text>
<g transform="translate(41.8,494) rotate(-90)">
<text transform="translate(0.68,0.00) scale(1.0000,1)" font-size="22.00" fill="#000" stroke="#000" stroke-width="0.25" letter-spacing="0.813">log</text>
<text transform="translate(43.32,0.00) scale(0.8771,1)" font-size="22.00" fill="#000" stroke="#000" stroke-width="0.27">F</text>
<text transform="translate(55.60,5.00) scale(1.0913,1)" font-size="13.00" fill="#000" stroke="#000" stroke-width="0.24">λ</text>
<text transform="translate(74.14,0.00) scale(1.1394,1)" font-size="22.00" fill="#000" stroke="#000" stroke-width="0.23">(</text>
<text transform="translate(83.64,0.00) scale(1.1160,1)" font-size="22.00" fill="#000" stroke="#000" stroke-width="0.24" letter-spacing="1.075">normalized</text>
<text transform="translate(205.99,0.00) scale(1.3604,1)" font-size="22.00" fill="#000" stroke="#000" stroke-width="0.21">)</text>
</g>
</svg></body></html>
